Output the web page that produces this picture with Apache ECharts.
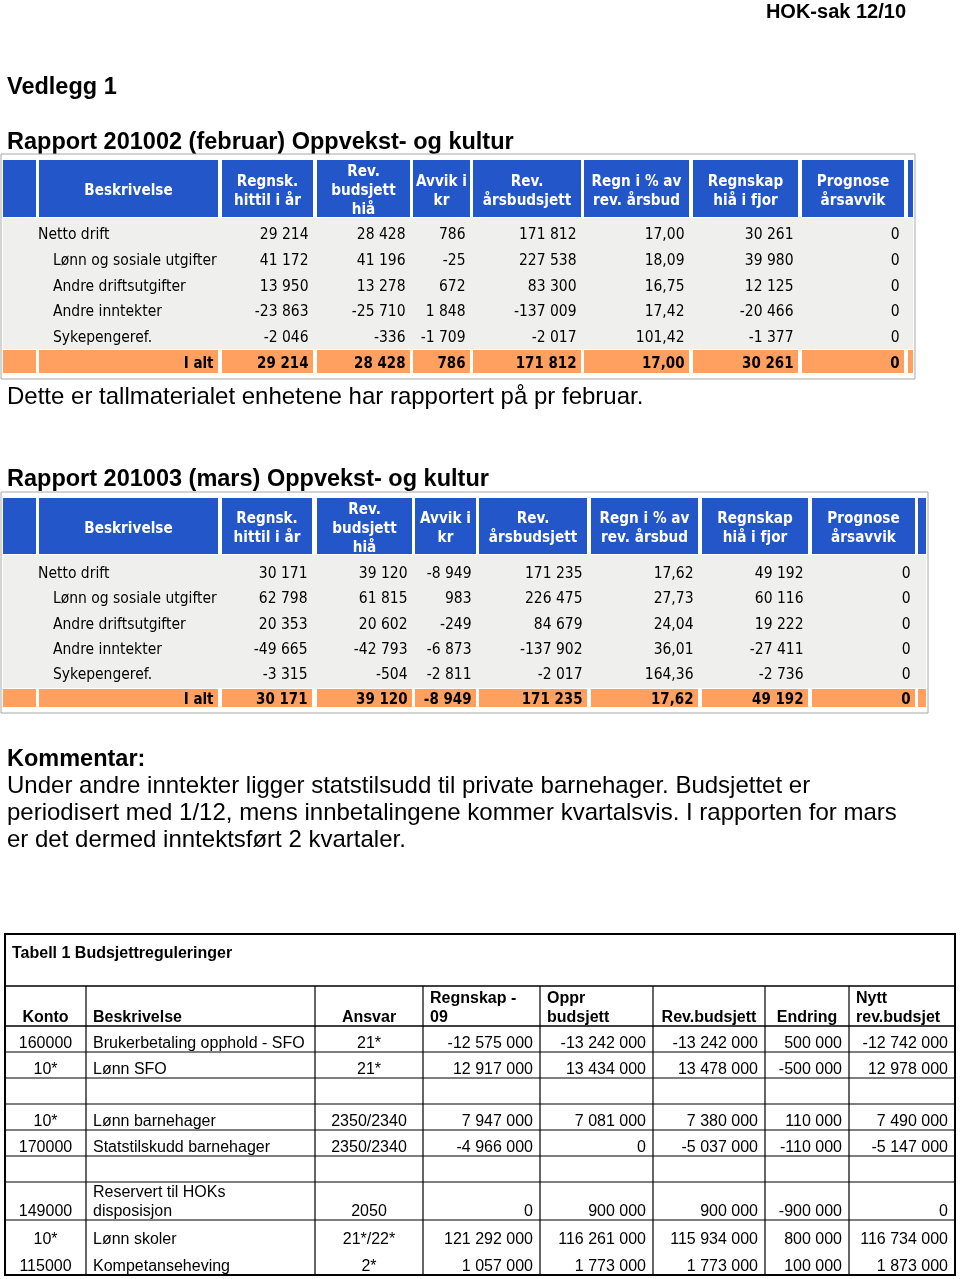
<!DOCTYPE html>
<html>
<head>
<meta charset="utf-8">
<title>HOK-sak 12/10 - Vedlegg 1</title>
<script src="https://cdn.jsdelivr.net/npm/echarts@6/dist/echarts.min.js"></script>
<style>
html, body { margin: 0; padding: 0; background: #fff; }
#main { width: 960px; height: 1279px; }
</style>
</head>
<body>
<div id="main"></div>
<script>
// rapporttabellene (feb og mars)
var reportHeaders = ['Beskrivelse', 'Regnsk.\nhittil i år', 'Rev.\nbudsjett\nhiå', 'Avvik i\nkr', 'Rev.\nårsbudsjett', 'Regn i % av\nrev. årsbud', 'Regnskap\nhiå i fjor', 'Prognose\nårsavvik'];
var reportRows = ['Netto drift', 'Lønn og sosiale utgifter', 'Andre driftsutgifter', 'Andre inntekter', 'Sykepengeref.'];
var reportLevel = [0, 1, 1, 1, 1];
var totalLabel = 'I alt';
var percentCol = 4; // Regn i % av rev. årsbud har to desimaler

// februar
var febRegnsk = [29214, 41172, 13950, -23863, -2046];
var febRevBud = [28428, 41196, 13278, -25710, -336];
var febAvvik = [786, -25, 672, 1848, -1709];
var febAarsbud = [171812, 227538, 83300, -137009, -2017];
var febProsent = [17.00, 18.09, 16.75, 17.42, 101.42];
var febIfjor = [30261, 39980, 12125, -20466, -1377];
var febPrognose = [0, 0, 0, 0, 0];
var febTotal = [29214, 28428, 786, 171812, 17.00, 30261, 0];

// mars
var marRegnsk = [30171, 62798, 20353, -49665, -3315];
var marRevBud = [39120, 61815, 20602, -42793, -504];
var marAvvik = [-8949, 983, -249, -6873, -2811];
var marAarsbud = [171235, 226475, 84679, -137902, -2017];
var marProsent = [17.62, 27.73, 24.04, 36.01, 164.36];
var marIfjor = [49192, 60116, 19222, -27411, -2736];
var marPrognose = [0, 0, 0, 0, 0];
var marTotal = [30171, 39120, -8949, 171235, 17.62, 49192, 0];

// Tabell 1 Budsjettreguleringer
var budgetTitle = 'Tabell 1 Budsjettreguleringer';
var budgetHeaders = ['Konto', 'Beskrivelse', 'Ansvar', 'Regnskap -\n09', 'Oppr\nbudsjett', 'Rev.budsjett', 'Endring', 'Nytt\nrev.budsjet'];
var budgetKonto = ['160000', '10*', '', '10*', '170000', '', '149000', '10*', '115000'];
var budgetTekst = ['Brukerbetaling opphold - SFO', 'Lønn SFO', '', 'Lønn barnehager', 'Statstilskudd barnehager', '', 'Reservert til HOKs\ndisposisjon', 'Lønn skoler', 'Kompetanseheving'];
var budgetAnsvar = ['21*', '21*', '', '2350/2340', '2350/2340', '', '2050', '21*/22*', '2*'];
var budgetRegnskap09 = [-12575000, 12917000, null, 7947000, -4966000, null, 0, 121292000, 1057000];
var budgetOppr = [-13242000, 13434000, null, 7081000, 0, null, 900000, 116261000, 1773000];
var budgetRev = [-13242000, 13478000, null, 7380000, -5037000, null, 900000, 115934000, 1773000];
var budgetEndring = [500000, -500000, null, 110000, -110000, null, -900000, 800000, 100000];
var budgetNytt = [-12742000, 12978000, null, 7490000, -5147000, null, 0, 116734000, 1873000];

// tekst på siden
var pageRef = 'HOK-sak 12/10';
var pageTitle = 'Vedlegg 1';
var febTitle = 'Rapport 201002 (februar) Oppvekst- og kultur';
var febNote = 'Dette er tallmaterialet enhetene har rapportert på pr februar.';
var marTitle = 'Rapport 201003 (mars) Oppvekst- og kultur';
var commentTitle = 'Kommentar:';
var commentLines = [
    'Under andre inntekter ligger statstilsudd til private barnehager. Budsjettet er',
    'periodisert med 1/12, mens innbetalingene kommer kvartalsvis. I rapporten for mars',
    'er det dermed inntektsført 2 kvartaler.'
];

// ---- layout ----
var BLUE = '#2356c9', ORANGE = '#ffa060', BODY = '#efefed';
var TAB_FONT = '"DejaVu Sans", Verdana, sans-serif';
var DOC_FONT = '"Liberation Sans", Arial, sans-serif';
var TEXT_DY = 2; // canvas 'middle' sitter litt høyt

var febLayout = {
    frame: [1, 154, 915, 379], head: [160, 217], body: [218, 349], total: [350, 373],
    cols: [[3, 36], [39, 218], [222, 313], [317, 410], [413, 470], [473, 581], [584, 689], [693, 798], [802, 904], [908, 913]],
    rowTop: 233, rowStep: 25.75
};
var marLayout = {
    frame: [1, 492, 928, 713], head: [498, 554], body: [555, 688], total: [689, 707],
    cols: [[3, 36], [39, 218], [222, 312], [317, 412], [415, 476], [479, 587], [591, 698], [702, 808], [812, 915], [918, 926]],
    rowTop: 572, rowStep: 25.25
};
var budgetLayout = {
    frame: [5, 934, 955, 1275], titleBottom: 986, titleY: 952,
    cols: [5, 86, 315, 423, 540, 653, 765, 849, 955],
    headBottom: 1026,
    rowBottoms: [1052, 1078, 1104, 1130, 1156, 1182, 1220, 1248, 1275],
    rowLines: [true, true, true, true, true, true, true, false, false],
    headAlign: ['center', 'left', 'center', 'left', 'left', 'center', 'center', 'left'],
    bodyAlign: ['center', 'left', 'center', 'right', 'right', 'right', 'right', 'right']
};

function fmt(v, dec) {
    if (v === null || v === undefined) return '';
    var s = Math.abs(v).toFixed(dec || 0).split('.');
    var whole = s[0].replace(/\B(?=(\d{3})+(?!\d))/g, ' ');
    return (v < 0 ? '-' : '') + whole + (s[1] ? ',' + s[1] : '');
}

function txt(p, s, o) {
    return {
        type: 'text', x: p[0], y: p[1] + TEXT_DY, scaleX: o.sx || 1,
        style: {
            text: s, x: 0, y: 0,
            align: o.align || 'left', verticalAlign: o.va || 'middle',
            fontSize: o.size || 16, fontWeight: o.bold ? 'bold' : 'normal',
            fontFamily: o.family || TAB_FONT, fill: o.color || '#000',
            lineHeight: o.lh || 19
        }
    };
}

function box(api, x0, y0, x1, y1, style) {
    var a = api.coord([x0, y0]), b = api.coord([x1, y1]);
    return { type: 'rect', shape: { x: a[0], y: a[1], width: b[0] - a[0], height: b[1] - a[1] }, style: style };
}

function line(api, x0, y0, x1, y1, w) {
    var a = api.coord([x0, y0]), b = api.coord([x1, y1]);
    return { type: 'line', shape: { x1: a[0], y1: a[1], x2: b[0], y2: b[1] }, style: { stroke: '#000', lineWidth: w || 1 } };
}

function reportSeries(L, values, total) {
    var data = [];
    for (var i = 0; i < reportRows.length + 2; i++) data.push([0, i]);
    return {
        type: 'custom', coordinateSystem: 'cartesian2d', silent: true, clip: false,
        data: data,
        renderItem: function (params, api) {
            var k = params.dataIndex, ch = [], c = L.cols, j;
            if (k === 0) {
                ch.push(box(api, L.frame[0], L.frame[1], L.frame[2], L.frame[3], { fill: '#fff', stroke: '#a8a8a8', lineWidth: 1 }));
                ch.push(box(api, c[0][0], L.body[0], c[c.length - 1][1], L.body[1], { fill: BODY }));
                for (j = 0; j < c.length; j++) {
                    ch.push(box(api, c[j][0], L.head[0], c[j][1], L.head[1], { fill: BLUE }));
                }
                for (j = 0; j < reportHeaders.length; j++) {
                    var cx = (c[j + 1][0] + c[j + 1][1]) / 2;
                    ch.push(txt(api.coord([cx, (L.head[0] + L.head[1]) / 2 + 0.5]), reportHeaders[j],
                        { align: 'center', bold: true, size: 15.5, sx: 0.88, color: '#fff', lh: 19 }));
                }
            } else if (k <= reportRows.length) {
                var r = k - 1, y = L.rowTop + r * L.rowStep;
                ch.push(txt(api.coord([c[1][0] - 1 + reportLevel[r] * 15, y]), reportRows[r], { sx: 0.87 }));
                for (j = 0; j < values.length; j++) {
                    ch.push(txt(api.coord([c[j + 2][1] - 4.5, y]), fmt(values[j][r], j === percentCol ? 2 : 0),
                        { align: 'right', sx: 0.87 }));
                }
            } else {
                var ty = (L.total[0] + L.total[1]) / 2;
                for (j = 0; j < c.length; j++) {
                    ch.push(box(api, c[j][0], L.total[0], c[j][1], L.total[1], { fill: ORANGE }));
                }
                ch.push(txt(api.coord([c[1][1] - 4.5, ty]), totalLabel, { align: 'right', bold: true, sx: 0.84 }));
                for (j = 0; j < total.length; j++) {
                    ch.push(txt(api.coord([c[j + 2][1] - 4.5, ty]), fmt(total[j], j === percentCol ? 2 : 0),
                        { align: 'right', bold: true, sx: 0.84 }));
                }
            }
            return { type: 'group', children: ch };
        }
    };
}

function budgetSeries(L) {
    var cols = [budgetKonto, budgetTekst, budgetAnsvar, budgetRegnskap09, budgetOppr, budgetRev, budgetEndring, budgetNytt];
    var data = [];
    for (var i = 0; i <= budgetKonto.length; i++) data.push([0, i]);
    function cellX(j, align) {
        if (align === 'center') return (L.cols[j] + L.cols[j + 1]) / 2;
        if (align === 'left') return L.cols[j] + 7;
        return L.cols[j + 1] - 7;
    }
    return {
        type: 'custom', coordinateSystem: 'cartesian2d', silent: true, clip: false,
        data: data,
        renderItem: function (params, api) {
            var k = params.dataIndex, ch = [], j;
            if (k === 0) {
                var f = L.frame;
                ch.push(box(api, f[0], f[1], f[2], f[3], { fill: 'none', stroke: '#000', lineWidth: 2 }));
                ch.push(line(api, f[0], L.titleBottom, f[2], L.titleBottom, 1.5));
                ch.push(line(api, f[0], L.headBottom, f[2], L.headBottom, 1.5));
                for (j = 1; j < L.cols.length - 1; j++) {
                    ch.push(line(api, L.cols[j], L.titleBottom, L.cols[j], f[3], 1.2));
                }
                ch.push(txt(api.coord([f[0] + 7, L.titleY]), budgetTitle, { bold: true, family: DOC_FONT }));
                for (j = 0; j < budgetHeaders.length; j++) {
                    ch.push(txt(api.coord([cellX(j, L.headAlign[j]), L.headBottom - 1]), budgetHeaders[j],
                        { align: L.headAlign[j], va: 'bottom', bold: true, family: DOC_FONT, lh: 19 }));
                }
            } else {
                var r = k - 1, yb = L.rowBottoms[r];
                if (L.rowLines[r] && r < L.rowBottoms.length - 1) ch.push(line(api, L.frame[0], yb, L.frame[2], yb, 1.2));
                for (j = 0; j < cols.length; j++) {
                    var v = cols[j][r];
                    var s = typeof v === 'number' ? fmt(v) : (v || '');
                    if (!s) continue;
                    ch.push(txt(api.coord([cellX(j, L.bodyAlign[j]), yb - 1]), s,
                        { align: L.bodyAlign[j], va: 'bottom', family: DOC_FONT, lh: 19 }));
                }
            }
            return { type: 'group', children: ch };
        }
    };
}

function docText(x, y, s, size, bold, align) {
    return {
        type: 'text', x: x, y: y + 2.5, silent: true,
        style: { text: s, align: align || 'left', verticalAlign: 'middle', fontSize: size, fontWeight: bold ? 'bold' : 'normal', fontFamily: DOC_FONT, fill: '#000' }
    };
}

var graphics = [
    docText(906, 9.5, pageRef, 20, true, 'right'),
    docText(7, 85, pageTitle, 23.5, true),
    docText(7, 140, febTitle, 23.5, true),
    docText(7, 395, febNote, 24, false),
    docText(7, 477, marTitle, 23.5, true),
    docText(7, 757, commentTitle, 23.5, true)
];
for (var n = 0; n < commentLines.length; n++) {
    graphics.push(docText(7, 784 + n * 27, commentLines[n], 24, false));
}

var myChart = echarts.init(document.getElementById('main'), null, { renderer: 'canvas' });
var option = {
    animation: false,
    backgroundColor: '#fff',
    grid: { left: 0, right: 0, top: 0, bottom: 0 },
    xAxis: { type: 'value', min: 0, max: 960, show: false },
    yAxis: { type: 'value', min: 0, max: 1279, inverse: true, show: false },
    graphic: graphics,
    series: [
        reportSeries(febLayout, [febRegnsk, febRevBud, febAvvik, febAarsbud, febProsent, febIfjor, febPrognose], febTotal),
        reportSeries(marLayout, [marRegnsk, marRevBud, marAvvik, marAarsbud, marProsent, marIfjor, marPrognose], marTotal),
        budgetSeries(budgetLayout)
    ]
};
myChart.setOption(option);
</script>
</body>
</html>
